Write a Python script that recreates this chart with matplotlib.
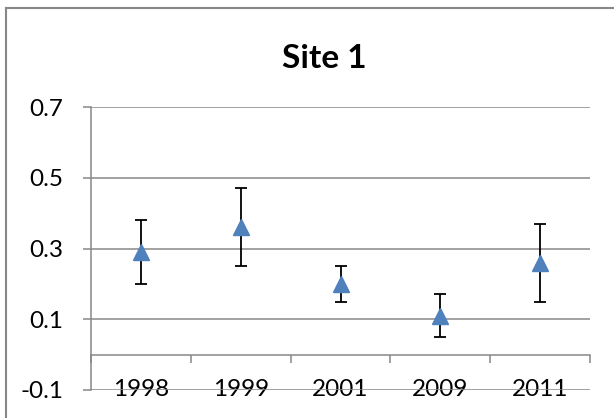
import matplotlib
matplotlib.use("Agg")
import matplotlib.pyplot as plt
from matplotlib.lines import Line2D
import numpy as np

years = ["1998", "1999", "2001", "2009", "2011"]
means = [0.29, 0.36, 0.20, 0.11, 0.26]
err_low = [0.09, 0.11, 0.05, 0.06, 0.11]
err_high = [0.09, 0.11, 0.05, 0.06, 0.11]
yticks = [-0.1, 0.1, 0.3, 0.5, 0.7]

plt.rcParams['font.family'] = ['Lato', 'DejaVu Sans']
grey = "#878787"

W, H = 614, 418
fig = plt.figure(figsize=(W / 100, H / 100), dpi=100)
ax = fig.add_axes([91 / W, 1 - 390 / H, (590 - 91) / W, (390 - 107) / H])

x = np.arange(len(years))
ax.errorbar(x, means, yerr=[err_low, err_high], fmt="none", ecolor="black",
            elinewidth=1.3, capsize=4.5, capthick=1.3, zorder=3)
ax.plot(x, means, linestyle="none", marker="^", markersize=11,
        color="#4F81BD", markeredgecolor="#4F81BD", zorder=4)

ymin, ymax = yticks[0], yticks[-1]
ax.set_ylim(ymin, ymax)
ax.set_xlim(-0.5, len(years) - 0.5)
ax.set_yticks(yticks)
ax.set_yticklabels([f"{v:.1f}" for v in yticks])
ax.yaxis.grid(True, color=grey, linewidth=1.1)
ax.set_axisbelow(True)
ax.tick_params(axis="y", length=6, width=1.1, color=grey, labelsize=17.5, pad=14)

ax.set_xticks(x)
ax.set_xticklabels(years)
ax.tick_params(axis="x", length=0, labelsize=17.5, pad=0)
for lbl in ax.get_xticklabels():
    lbl.set_va("center")

for s in ["top", "right", "bottom"]:
    ax.spines[s].set_visible(False)
ax.spines["left"].set_color(grey)
ax.spines["left"].set_linewidth(1.1)

# category axis crossing at zero
sec = ax.secondary_xaxis((0 - ymin) / (ymax - ymin))
sec.set_xticks(np.arange(len(years) + 1) - 0.5)
sec.set_xticklabels([])
sec.tick_params(direction="out", length=6, width=1.1, color=grey)
sec.spines["bottom"].set_color(grey)
sec.spines["bottom"].set_linewidth(1.1)

fig.text(324 / W, 1 - 58 / H, "Site 1", ha="center", va="center",
         fontsize=24, fontweight="bold")

# chart frame (only top and left edges are inside the picture)
fx, fy = 6 / W, 1 - 7.5 / H
fig.add_artist(Line2D([fx, 1], [fy, fy], transform=fig.transFigure, color=grey, linewidth=1.5))
fig.add_artist(Line2D([fx, fx], [0, fy], transform=fig.transFigure, color=grey, linewidth=1.5))

fig.savefig("out.png", dpi=100)
